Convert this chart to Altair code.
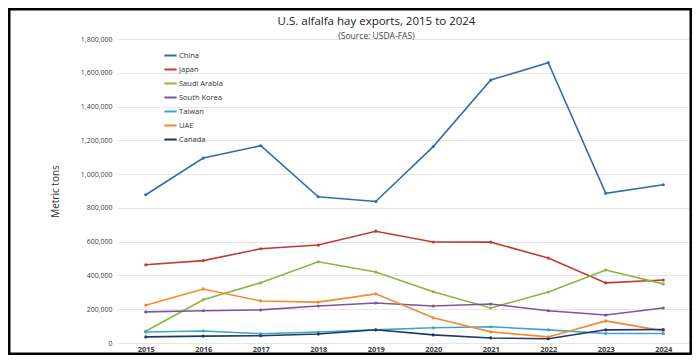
import altair as alt
import pandas as pd

years = ["2015", "2016", "2017", "2018", "2019", "2020", "2021", "2022", "2023", "2024"]
countries = ["China", "Japan", "Saudi Arabia", "South Korea", "Taiwan", "UAE", "Canada"]
colors = ["#2E6DB4", "#C23A33", "#8CB43C", "#7B55A0", "#3AA6C8", "#F28A30", "#1F3A68"]

china = [878000, 1095000, 1168000, 866000, 838000, 1163000, 1557000, 1660000, 886000, 937000]
japan = [463000, 488000, 558000, 580000, 662000, 598000, 597000, 503000, 356000, 373000]
saudi = [70000, 256000, 357000, 481000, 420000, 303000, 207000, 302000, 432000, 350000]
skorea = [184000, 191000, 196000, 219000, 237000, 219000, 231000, 191000, 166000, 207000]
taiwan = [65000, 71000, 55000, 65000, 78000, 90000, 96000, 78000, 56000, 56000]
uae = [224000, 320000, 249000, 242000, 291000, 149000, 66000, 36000, 131000, 72000]
canada = [36000, 41000, 43000, 53000, 78000, 48000, 30000, 25000, 78000, 80000]

series = [china, japan, saudi, skorea, taiwan, uae, canada]
rows = []
for name, vals in zip(countries, series):
    for y, v in zip(years, vals):
        rows.append({"Year": y, "Country": name, "Tons": v})
df = pd.DataFrame(rows)

W, H = 575, 304
PL, PT, PR, PB = 109, 31, 0, 12

lines = alt.Chart(df).mark_line(
    strokeWidth=1.6,
    point=alt.OverlayMarkDef(size=10, filled=True),
).encode(
    x=alt.X("Year:O", sort=years,
            axis=alt.Axis(title=None, labelAngle=0, domain=False, ticks=False,
                          labelFontSize=7.5, labelFontWeight="bold", labelColor="#404040",
                          labelPadding=2, labelFont="Open Sans")),
    y=alt.Y("Tons:Q", scale=alt.Scale(domain=[0, 1800000], nice=False),
            axis=alt.Axis(title="Metric tons", values=list(range(0, 1800001, 200000)),
                          format=",d", domain=False, ticks=False,
                          labelFontSize=7, labelColor="#404040", labelFont="Open Sans",
                          labelPadding=5, gridColor="#E6E6E6", gridWidth=1,
                          titleFontSize=10, titleColor="#333333", titleFont="Open Sans",
                          titleFontWeight="normal", titlePadding=20)),
    color=alt.Color("Country:N", sort=countries,
                    scale=alt.Scale(domain=countries, range=colors),
                    legend=alt.Legend(title=None, orient="none", legendX=46, legendY=9,
                                      symbolType="stroke", symbolSize=150,
                                      symbolStrokeWidth=2, labelFontSize=7.5,
                                      labelColor="#333333", labelFont="Open Sans",
                                      rowPadding=2, labelOffset=1)),
    order=alt.Order("Year:O"),
)

frame = alt.Chart(alt.Data(values=[{}])).mark_rect(
    filled=False, stroke="black", strokeWidth=2.5, clip=False
).encode(
    x=alt.value(-PL + 1.25), x2=alt.value(W + PR - 1.25),
    y=alt.value(-PT + 1.25), y2=alt.value(H + PB - 1.25),
)

chart = alt.layer(lines, frame).properties(
    width=W, height=H,
    padding={"left": PL, "top": PT, "right": PR, "bottom": PB},
    autosize=alt.AutoSizeParams(type="none"),
    title=alt.TitleParams(
        text="U.S. alfalfa hay exports, 2015 to 2024",
        subtitle="(Source: USDA-FAS)",
        anchor="middle", dx=-28, offset=-32,
        font="Open Sans", fontSize=11.5, fontWeight="normal", color="#222222",
        subtitleFont="Open Sans", subtitleFontSize=8.5, subtitleColor="#444444",
        subtitlePadding=4,
    ),
).configure_view(stroke=None)

chart.save("out.html", embed_options={"renderer": "svg", "actions": False})
